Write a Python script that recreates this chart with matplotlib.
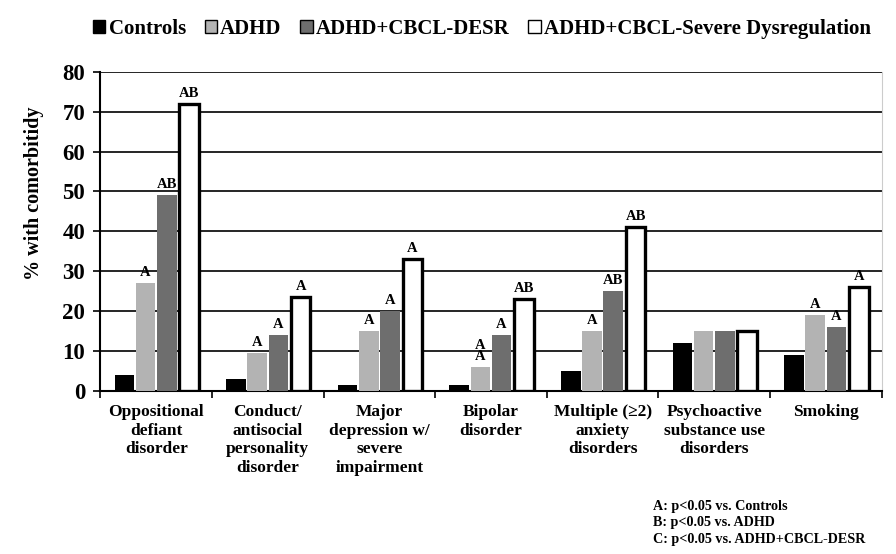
import matplotlib
matplotlib.use("Agg")
import matplotlib.pyplot as plt
import numpy as np

plt.rcParams["font.family"] = ["Liberation Serif", "DejaVu Serif"]
plt.rcParams["font.weight"] = "bold"

categories = ["Oppositional\ndefiant\ndisorder", "Conduct/\nantisocial\npersonality\ndisorder",
              "Major\ndepression w/\nsevere\nimpairment", "Bipolar\ndisorder",
              "Multiple (\u22652)\nanxiety\ndisorders", "Psychoactive\nsubstance use\ndisorders", "Smoking"]
series = ["Controls", "ADHD", "ADHD+CBCL-DESR", "ADHD+CBCL-Severe Dysregulation"]
controls = [4, 3, 1.5, 1.5, 5, 12, 9]
adhd = [27, 9.5, 15, 6, 15, 15, 19]
desr = [49, 14, 20, 14, 25, 15, 16]
severe = [72, 23.5, 33, 23, 41, 15, 26]
lab_controls = ["", "", "", "", "", "", ""]
lab_adhd = ["A", "A", "A", "A\nA", "A", "", "A"]
lab_desr = ["AB", "A", "A", "A", "AB", "", "A"]
lab_severe = ["AB", "A", "A", "AB", "AB", "", "A"]
footnote = ["A: p<0.05 vs. Controls", "B: p<0.05 vs. ADHD", "C: p<0.05 vs. ADHD+CBCL-DESR"]

values = [controls, adhd, desr, severe]
labels = [lab_controls, lab_adhd, lab_desr, lab_severe]
fills = ["#000000", "#b3b3b3", "#6e6e6e", "#ffffff"]

fig = plt.figure(figsize=(8.96, 5.54), dpi=100)
ax = fig.add_axes([0.112, 0.295, 0.872, 0.575])

x = np.arange(len(categories))
w = 0.175
step = 0.19
for i, (vals, labs, col) in enumerate(zip(values, labels, fills)):
    off = (i - 1.5) * step
    if i == 3:
        bars = ax.bar(x + off + 0.01, vals, w, color=col, edgecolor="black", linewidth=2.4, zorder=3,
                      label=series[i])
    else:
        bars = ax.bar(x + off, vals, w, color=col, linewidth=0, zorder=3, label=series[i])
    for b, v, t in zip(bars, vals, labs):
        if t:
            ax.text(b.get_x() + b.get_width() / 2, v + 1.0, t, ha="center", va="bottom",
                    fontsize=10.5, fontweight="bold", linespacing=0.75, zorder=4)

ax.set_ylim(0, 80)
ax.set_xlim(-0.5, len(categories) - 0.5)
ax.set_yticks(range(0, 81, 10))
ax.tick_params(axis="y", labelsize=16.5, direction="out", length=5, width=1.2, pad=6)
ax.yaxis.grid(True, color="black", lw=1.2, zorder=0)
ax.set_xticks(x)
ax.set_xticklabels(categories, fontsize=12.5, fontweight="bold", va="top")
ax.tick_params(axis="x", length=0, pad=10)
ax.set_xticks(np.arange(-0.5, len(categories)), minor=True)
ax.tick_params(axis="x", which="minor", length=5, width=1.2, direction="out")
for s in ["left", "bottom"]:
    ax.spines[s].set_linewidth(1.5)
ax.spines["top"].set_visible(False)
ax.spines["right"].set_color("#cccccc")
ax.set_ylabel("% with comorbitidy", fontsize=14.5, fontweight="bold")
ax.yaxis.set_label_coords(-0.072, 0.62)

leg = fig.legend(loc="upper center", bbox_to_anchor=(0.538, 1.0), ncol=4, frameon=False,
                 handlelength=0.6, handleheight=0.6, handletextpad=0.15,
                 columnspacing=0.9, prop={"weight": "bold", "size": 15})
for h in leg.legend_handles:
    h.set_linewidth(1.0)
    h.set_edgecolor("black")

for k, line in enumerate(footnote):
    fig.text(0.729, 0.085 - k * 0.029, line, fontsize=10.2, fontweight="bold", ha="left", va="center")

fig.savefig("out.png", dpi=100)
